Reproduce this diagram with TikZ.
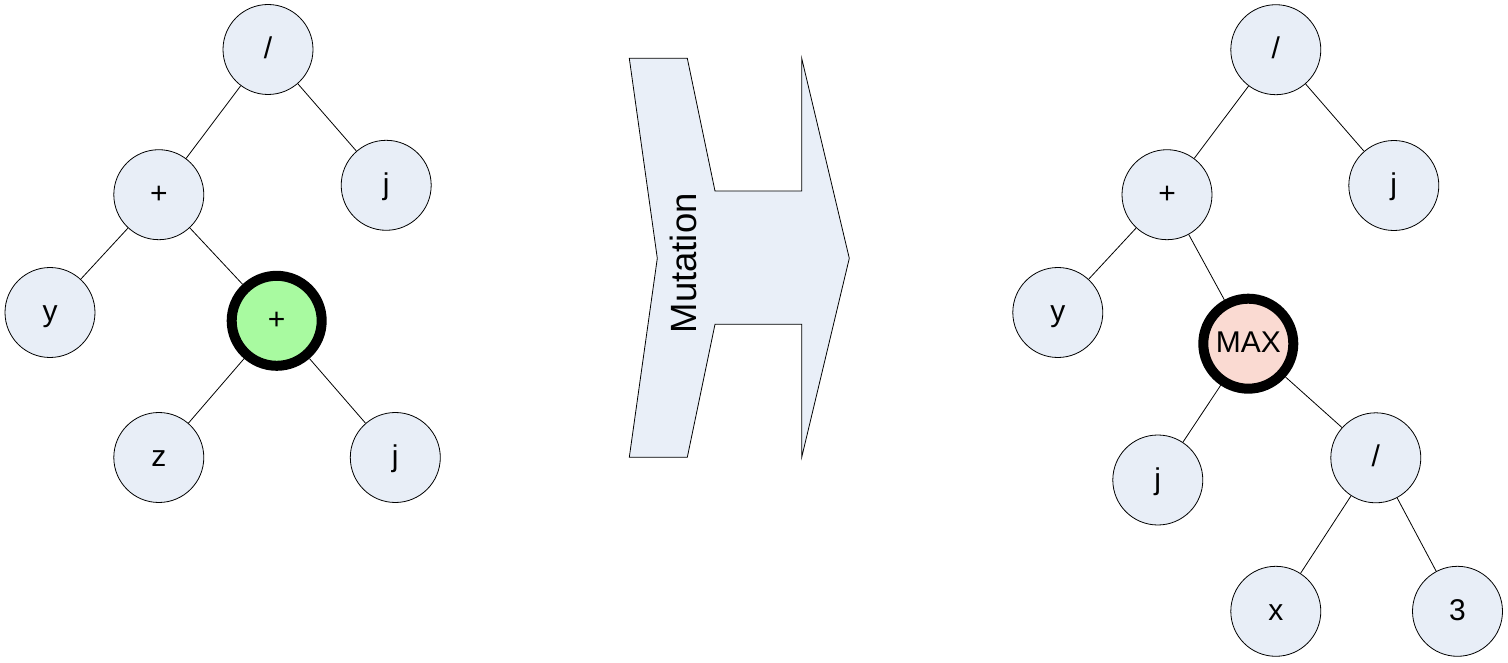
\documentclass[tikz,border=0pt]{standalone}
\usepackage{fontspec}
\setmainfont{Liberation Sans}
\definecolor{nodeblue}{RGB}{232,238,247}
\definecolor{selgreen}{RGB}{168,250,160}
\definecolor{maxpink}{RGB}{250,218,210}
\definecolor{arrowfill}{RGB}{233,239,248}
\tikzset{
  tnode/.style={circle, draw=black, fill=nodeblue, line width=0.8pt,
    minimum size=90pt, inner sep=0pt, font=\fontsize{30}{30}\selectfont,
    text height=24pt, text depth=6pt},
  selnode/.style={tnode, line width=10pt, minimum size=90pt},
  edge/.style={draw=black, line width=0.8pt},
  bigarrow/.style={draw=black, fill=arrowfill, line width=0.8pt, line join=miter}
}
\begin{document}
\begin{tikzpicture}[x=1pt,y=-1pt]
\useasboundingbox (0,0) rectangle (1508,663);
% left tree
\node[tnode] (L1) at (268,49.5) {/};
\node[tnode] (L2) at (158.8,194.7) {+};
\node[tnode] (L3) at (386.2,185.3) {j};
\node[tnode] (L4) at (50,312.5) {y};
\node[selnode, fill=selgreen] (L5) at (276.7,320.8) {+};
\node[tnode] (L6) at (158.8,457.5) {z};
\node[tnode] (L7) at (395.3,457.5) {j};
\draw[edge] (L1) -- (L2);
\draw[edge] (L1) -- (L3);
\draw[edge] (L2) -- (L4);
\draw[edge] (L2) -- (L5);
\draw[edge] (L5) -- (L6);
\draw[edge] (L5) -- (L7);
% arrow
\draw[bigarrow] (629.3,58.3) -- (687.3,58.3) -- (715,191) -- (801.7,191) -- (801.7,58.3)
  -- (849.3,258.3) -- (801.7,457.3) -- (801.7,324.3) -- (715,324.3) -- (687.3,457.3)
  -- (629.3,457.3) -- (657.3,258.3) -- cycle;
\node[rotate=90, anchor=base, inner sep=0pt, font=\fontsize{36.5}{36.5}\selectfont] (mut) at (696.7,263.3) {Mutation};
% right tree
\node[tnode] (R1) at (1275.8,49.7) {/};
\node[tnode] (R2) at (1167,194.7) {+};
\node[tnode] (R3) at (1393.8,185.5) {j};
\node[tnode] (R4) at (1057.8,312.5) {y};
\node[selnode, fill=maxpink] (R5) at (1248.3,343.7) {MAX};
\node[tnode] (R6) at (1157.8,480) {j};
\node[tnode] (R7) at (1375.8,457.8) {/};
\node[tnode] (R8) at (1275.8,611.3) {x};
\node[tnode] (R9) at (1457.5,611.3) {3};
\draw[edge] (R1) -- (R2);
\draw[edge] (R1) -- (R3);
\draw[edge] (R2) -- (R4);
\draw[edge] (R2) -- (R5);
\draw[edge] (R5) -- (R6);
\draw[edge] (R5) -- (R7);
\draw[edge] (R7) -- (R8);
\draw[edge] (R7) -- (R9);
\end{tikzpicture}
\end{document}
